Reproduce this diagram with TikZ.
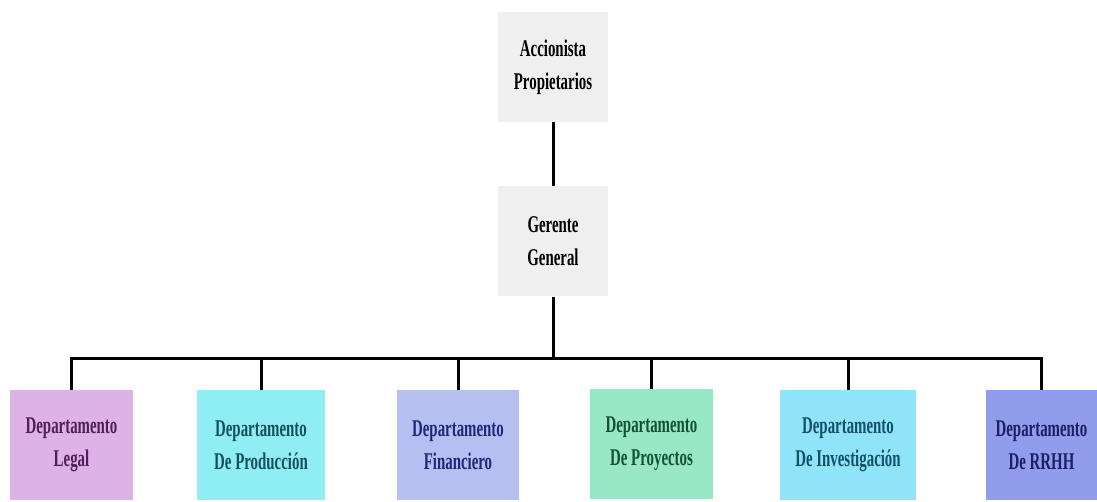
\documentclass[tikz,border=0pt]{standalone}
\usepackage{fontspec}
\setmainfont[FakeStretch=0.62]{Liberation Serif}
\definecolor{boxgray}{RGB}{239,239,239}
\definecolor{legalfill}{RGB}{221,178,230}
\definecolor{prodfill}{RGB}{143,238,244}
\definecolor{finfill}{RGB}{180,192,242}
\definecolor{proyfill}{RGB}{152,232,200}
\definecolor{invfill}{RGB}{144,228,250}
\definecolor{rrhhfill}{RGB}{144,156,236}
\definecolor{legaltext}{RGB}{80,30,90}
\definecolor{prodtext}{RGB}{20,80,90}
\definecolor{fintext}{RGB}{30,40,120}
\definecolor{proytext}{RGB}{20,80,50}
\definecolor{invtext}{RGB}{20,80,100}
\definecolor{rrhhtext}{RGB}{30,30,100}
\tikzset{every picture/.style={/utils/exec={\bfseries}}}
\usetikzlibrary{positioning}

\begin{document}
\begin{tikzpicture}[x=1pt, y=1pt,
    box/.style={minimum height=110pt, inner sep=0pt, align=center,
      font=\bfseries\fontsize{24}{33}\selectfont},
    link/.style={line width=3pt}]

  \useasboundingbox (0,0) rectangle (1097,502);

  \node [box, fill=boxgray, minimum width=110pt] (acc) at (553,435) {Accionista\\Propietarios};
  \node [box, fill=boxgray, minimum width=110pt, below=64pt of acc] (gg) {Gerente\\General};

  \begin{scope}[every node/.style={box}]
    \node [fill=legalfill, text=legaltext, minimum width=123pt] (legal) at (71.5,57) {Departamento\\Legal};
    \node [fill=prodfill, text=prodtext, minimum width=128pt] (prod) at (261,57) {Departamento\\De Producción};
    \node [fill=finfill, text=fintext, minimum width=122pt] (fin) at (458,57) {Departamento\\Financiero};
    \node [fill=proyfill, text=proytext, minimum width=123pt] (proy) at (651.5,58) {Departamento\\De Proyectos};
    \node [fill=invfill, text=invtext, minimum width=136pt] (inv) at (848,57) {Departamento\\De Investigación};
    \node [fill=rrhhfill, text=rrhhtext, minimum width=111pt] (rrhh) at (1041.5,57) {Departamento\\De RRHH};
  \end{scope}

  \draw [link] (acc) -- (gg);
  \draw [link] (gg.south) -- ++(0,-62) coordinate (bus);
  \foreach \d in {legal,prod,fin,proy,inv,rrhh}
    \draw [link] (bus) -| (\d.north);

\end{tikzpicture}
\end{document}
